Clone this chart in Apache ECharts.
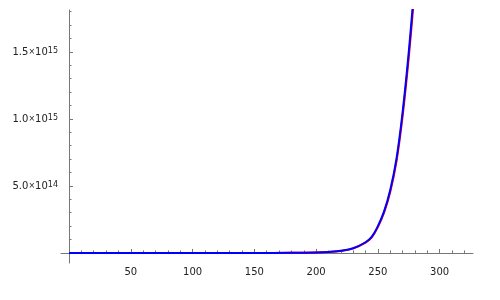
<!DOCTYPE html>
<html>
<head>
<meta charset="utf-8">
<script src="https://cdn.jsdelivr.net/npm/echarts@6/dist/echarts.min.js"></script>
<style>
html,body{margin:0;padding:0;background:#fff;}
#main{width:500px;height:300px;}
</style>
</head>
<body>
<div id="main"></div>
<script>
// x positions
const xVals = [0, 50, 100, 150, 180, 200, 210, 220, 230, 240, 245, 250, 255, 260, 265, 270, 275, 280];
// blue curve (drawn on top)
const blueVals = [1e10, 1e10, 2e10, 3e11, 1.3e12, 4e12, 8e12, 1.6e13, 3.5e13, 8e13, 1.2e14, 2.0e14, 3.1e14, 4.7e14, 7.0e14, 1.05e15, 1.5e15, 2.05e15];
// red curve (just under the blue one, a hair to the right)
const redVals = [1e10, 1e10, 2e10, 2.9e11, 1.25e12, 3.85e12, 7.7e12, 1.54e13, 3.38e13, 7.75e13, 1.16e14, 1.94e14, 3.0e14, 4.55e14, 6.8e14, 1.02e15, 1.46e15, 1.99e15];

// tick marks
const xMajor = [50, 100, 150, 200, 250, 300];
const xMinor = [10, 20, 30, 40, 60, 70, 80, 90, 110, 120, 130, 140, 160, 170, 180, 190,
  210, 220, 230, 240, 260, 270, 280, 290, 310, 320];
const yMajor = [5e14, 1e15, 1.5e15];
const yMinor = [1e14, 2e14, 3e14, 4e14, 6e14, 7e14, 8e14, 9e14, 1.1e15, 1.2e15, 1.3e15, 1.4e15, 1.6e15, 1.7e15, 1.8e15];

const axisCol = '#777';
const xMin = -6.5, xMax = 327;
const yMin = -7.5e13, yMax = 1.813e15;

function pair(xs, ys) {
  return xs.map(function (x, i) { return [x, ys[i]]; });
}

function sciLabel(v) {
  let exp = Math.floor(Math.log10(v) + 1e-9);
  let m = v / Math.pow(10, exp);
  return '{a|' + m.toFixed(1) + '}{x|×}{a|10}{b|' + exp + '}';
}

let myChart = echarts.init(document.getElementById('main'));
let option = {
  animation: false,
  grid: {left: 61, right: 27, top: 10, bottom: 37},
  xAxis: [{
    type: 'value', min: xMin, max: xMax,
    axisLine: {onZero: true, onZeroAxisIndex: 0, lineStyle: {color: axisCol, width: 1}},
    axisTick: {inside: true, length: 4, customValues: xMajor, lineStyle: {color: axisCol}},
    axisLabel: {customValues: xMajor, margin: 4, fontSize: 10, color: '#222', fontFamily: 'DejaVu Sans'},
    splitLine: {show: false}
  }, {
    type: 'value', min: xMin, max: xMax, position: 'bottom',
    axisLine: {show: false, onZero: true, onZeroAxisIndex: 0},
    axisTick: {inside: true, length: 2.5, customValues: xMinor, lineStyle: {color: axisCol}},
    axisLabel: {show: false},
    splitLine: {show: false}
  }],
  yAxis: [{
    type: 'value', min: yMin, max: yMax,
    axisLine: {show: true, onZero: true, onZeroAxisIndex: 0, lineStyle: {color: axisCol, width: 1}},
    axisTick: {show: true, inside: true, length: 4, customValues: yMajor, lineStyle: {color: axisCol}},
    axisLabel: {
      customValues: yMajor, margin: 3,
      formatter: sciLabel,
      rich: {
        a: {fontSize: 10, color: '#222', fontFamily: 'DejaVu Sans'},
        x: {fontSize: 8, color: '#222', fontFamily: 'DejaVu Sans'},
        b: {fontSize: 8, color: '#222', fontFamily: 'DejaVu Sans', verticalAlign: 'top', padding: [0, 0, 3, 0]}
      }
    },
    splitLine: {show: false}
  }, {
    type: 'value', min: yMin, max: yMax, position: 'left',
    axisLine: {show: false, onZero: true, onZeroAxisIndex: 0},
    axisTick: {show: true, inside: true, length: 2.5, customValues: yMinor, lineStyle: {color: axisCol}},
    axisLabel: {show: false},
    splitLine: {show: false}
  }],
  series: [{
    name: 'red', type: 'line', data: pair(xVals, redVals),
    smooth: 0.4, showSymbol: false, clip: true,
    lineStyle: {color: '#ff0000', width: 2}
  }, {
    name: 'blue', type: 'line', data: pair(xVals, blueVals),
    smooth: 0.4, showSymbol: false, clip: true,
    lineStyle: {color: '#0000ff', width: 2}
  }]
};
myChart.setOption(option);
</script>
</body>
</html>
